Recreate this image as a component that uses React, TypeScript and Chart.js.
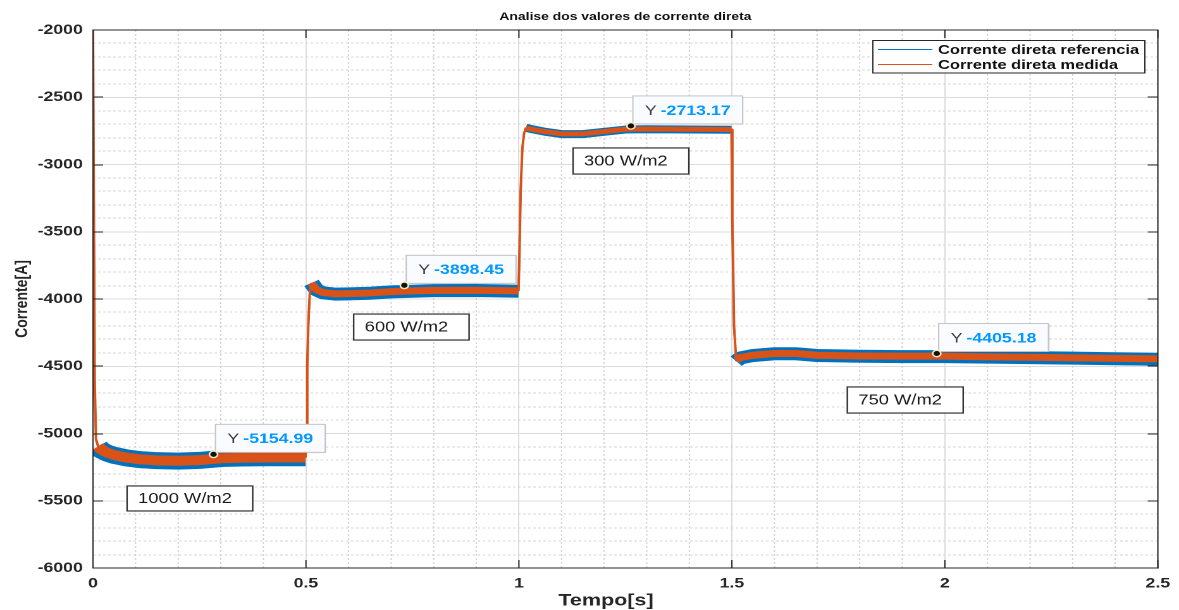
import React, { useEffect, useRef } from 'react';
import { Chart, registerables } from 'chart.js';

Chart.register(...registerables);

// ---------------- data ----------------
const timeS = [
  0, 0.004, 0.007, 0.012, 0.02, 0.035, 0.05, 0.08, 0.11, 0.15, 0.2, 0.25, 0.28, 0.3, 0.35, 0.4, 0.45, 0.499,
  0.501, 0.503, 0.506, 0.509, 0.513, 0.518, 0.525, 0.54, 0.57, 0.6, 0.65, 0.7, 0.75, 0.8, 0.9, 0.999,
  1.001, 1.004, 1.008, 1.012, 1.016, 1.03, 1.06, 1.1, 1.15, 1.2, 1.25, 1.3, 1.4, 1.499,
  1.501, 1.505, 1.51, 1.52, 1.55, 1.6, 1.65, 1.7, 1.8, 1.9, 2.0, 2.1, 2.2, 2.3, 2.4, 2.5,
];

const refCurrent = [
  -2000, -4620, -5050, -5100, -5125, -5148, -5163, -5182, -5194, -5202, -5205, -5200, -5192, -5186, -5182, -5180, -5180, -5180,
  -5010, -4520, -4160, -3965, -3880, -3903, -3933, -3954, -3964, -3962, -3957, -3947, -3942, -3938, -3937, -3942,
  -3710, -3210, -2885, -2772, -2726, -2737, -2756, -2774, -2774, -2757, -2740, -2738, -2740, -2742,
  -3410, -4210, -4462, -4438, -4420, -4407, -4407, -4420, -4426, -4428, -4428, -4432, -4436, -4440, -4444, -4448,
];

const measCurrent = [
  -2000, -4600, -5040, -5095, -5120, -5145, -5160, -5180, -5192, -5200, -5203, -5198, -5190, -5184, -5180, -5178, -5178, -5178,
  -5000, -4500, -4150, -3960, -3882, -3905, -3932, -3952, -3962, -3960, -3955, -3945, -3940, -3936, -3935, -3940,
  -3700, -3200, -2880, -2770, -2728, -2738, -2755, -2772, -2772, -2755, -2738, -2736, -2738, -2740,
  -3400, -4200, -4455, -4435, -4418, -4405, -4405, -4418, -4424, -4425, -4425, -4430, -4433, -4438, -4441, -4445,
];

const seriesNames = ['Corrente direta referencia', 'Corrente direta medida'];

const tipTimes = [0.283, 0.731, 1.263, 1.981];
const tipValues = [-5154.99, -3898.45, -2713.17, -4405.18];

const irradianceLabels = ['1000 W/m2', '600 W/m2', '300 W/m2', '750 W/m2'];

const chartTitle = 'Analise dos valores de corrente direta';
const xTitle = 'Tempo[s]';
const yTitle = 'Corrente[A]';

// ---------------- layout / style ----------------
const VIEW_W = 1179;
const VIEW_H = 610;
const LOGICAL_W = 932; // canvas drawn narrower, then stretched horizontally like the reference
const SX = VIEW_W / LOGICAL_W;

const FONT = '"Liberation Sans", Arial, Helvetica, sans-serif';
const AXIS_COLOR = '#262626';
const BLUE = '#0072BD';
const ORANGE = '#D95319';

// annotation boxes, in data units: [t0, t1, yTop, yBottom]
const labelBoxes = [
  [0.080, 0.375, -5390, -5576],
  [0.612, 0.883, -4112, -4305],
  [1.127, 1.399, -2877, -3071],
  [1.771, 2.043, -4654, -4848],
];

const BAND_W = {
  blue: [17, 13, 8, 13],
  orange: [10, 7, 5, 7],
};
const THIN_W = { blue: 1.5, orange: 2 };

function regionIndex(t: number) {
  if (t < 0.5) return 0;
  if (t < 1.0) return 1;
  if (t < 1.5) return 2;
  return 3;
}

function segWidth(kind: 'blue' | 'orange') {
  return (ctx: any) => {
    const dxPx = Math.abs(ctx.p1.x - ctx.p0.x);
    const dyPx = Math.abs(ctx.p1.y - ctx.p0.y);
    if (dyPx > dxPx * 2.5) return THIN_W[kind];
    return BAND_W[kind][regionIndex(ctx.p0.parsed.x)];
  };
}

const decorPlugin = {
  id: 'decor',
  beforeDatasetsDraw(chart: any) {
    const { ctx, chartArea: a, scales } = chart;
    const x = scales.x;
    const y = scales.y;
    ctx.save();
    ctx.strokeStyle = '#d4d4d4';
    ctx.lineWidth = 1;
    ctx.setLineDash([2, 2]);
    for (let i = 1; i < 25; i++) {
      if (i % 5 === 0) continue;
      const px = x.getPixelForValue(i / 10);
      ctx.beginPath();
      ctx.moveTo(px, a.top);
      ctx.lineTo(px, a.bottom);
      ctx.stroke();
    }
    for (let v = -5900; v < -2000; v += 100) {
      if (v % 500 === 0) continue;
      const py = Math.round(y.getPixelForValue(v));
      ctx.beginPath();
      ctx.moveTo(a.left, py);
      ctx.lineTo(a.right, py);
      ctx.stroke();
    }
    ctx.restore();
  },
  afterDatasetsDraw(chart: any) {
    const { ctx, chartArea: a, scales } = chart;
    const x = scales.x;
    const y = scales.y;
    ctx.save();

    // axes box + inward ticks
    ctx.strokeStyle = AXIS_COLOR;
    ctx.lineWidth = 1;
    ctx.setLineDash([]);
    ctx.strokeRect(a.left, a.top, a.right - a.left, a.bottom - a.top);
    const TL = 8;
    for (let v = -6000; v <= -2000; v += 500) {
      const py = Math.round(y.getPixelForValue(v));
      ctx.beginPath();
      ctx.moveTo(a.left, py); ctx.lineTo(a.left + TL, py);
      ctx.moveTo(a.right, py); ctx.lineTo(a.right - TL, py);
      ctx.stroke();
    }
    for (let i = 0; i <= 5; i++) {
      const px = x.getPixelForValue(i * 0.5);
      ctx.beginPath();
      ctx.moveTo(px, a.bottom); ctx.lineTo(px, a.bottom - TL);
      ctx.moveTo(px, a.top); ctx.lineTo(px, a.top + TL);
      ctx.stroke();
    }

    // irradiance label boxes
    ctx.font = `14.5px ${FONT}`;
    ctx.textBaseline = 'middle';
    ctx.textAlign = 'left';
    labelBoxes.forEach((b, i) => {
      const x0 = x.getPixelForValue(b[0]);
      const x1 = x.getPixelForValue(b[1]);
      const y0 = y.getPixelForValue(b[2]);
      const y1 = y.getPixelForValue(b[3]);
      ctx.fillStyle = '#ffffff';
      ctx.fillRect(x0, y0, x1 - x0, y1 - y0);
      ctx.strokeStyle = '#333333';
      ctx.lineWidth = 1.2;
      ctx.strokeRect(x0, y0, x1 - x0, y1 - y0);
      ctx.fillStyle = '#1a1a1a';
      ctx.fillText(irradianceLabels[i], x0 + 8.7, (y0 + y1) / 2 + 0.5);
    });

    // data tips
    tipTimes.forEach((t, i) => {
      const mx = x.getPixelForValue(t);
      const my = y.getPixelForValue(tipValues[i]);
      const valText = tipValues[i].toFixed(2);
      ctx.font = `bold 14px ${FONT}`;
      const vw = ctx.measureText(valText).width;
      const bx = mx + 1.5;
      const by = my - 30;
      const bh = 28;
      const bw = 22 + vw + 9.5;
      ctx.save();
      ctx.shadowColor = 'rgba(0,0,0,0.18)';
      ctx.shadowBlur = 3;
      ctx.shadowOffsetX = 1;
      ctx.shadowOffsetY = 1;
      ctx.fillStyle = '#fafbff';
      ctx.fillRect(bx, by, bw, bh);
      ctx.restore();
      ctx.strokeStyle = '#c4c4c4';
      ctx.lineWidth = 1;
      ctx.strokeRect(bx, by, bw, bh);
      ctx.textBaseline = 'middle';
      ctx.font = `14px ${FONT}`;
      ctx.fillStyle = '#404040';
      ctx.fillText('Y', bx + 9.5, by + bh / 2 + 1);
      ctx.font = `bold 14px ${FONT}`;
      ctx.fillStyle = '#0099FF';
      ctx.fillText(valText, bx + 22, by + bh / 2 + 1);
      // marker
      ctx.beginPath();
      ctx.arc(mx, my, 3.2, 0, Math.PI * 2);
      ctx.fillStyle = '#111111';
      ctx.fill();
      ctx.strokeStyle = '#f3ecc4';
      ctx.lineWidth = 1.3;
      ctx.stroke();
    });

    // legend
    const lx = 690, ly = 40.5, lw = 215, lh = 32.5;
    ctx.fillStyle = '#ffffff';
    ctx.fillRect(lx, ly, lw, lh);
    ctx.strokeStyle = AXIS_COLOR;
    ctx.lineWidth = 1;
    ctx.strokeRect(lx, ly, lw, lh);
    const rows = [49.5, 64.5];
    const cols = [BLUE, ORANGE];
    ctx.font = `bold 13px ${FONT}`;
    ctx.textBaseline = 'middle';
    rows.forEach((ry, i) => {
      ctx.strokeStyle = cols[i];
      ctx.lineWidth = 1;
      ctx.beginPath();
      ctx.moveTo(694, ry);
      ctx.lineTo(737, ry);
      ctx.stroke();
      ctx.fillStyle = '#111111';
      ctx.fillText(seriesNames[i], 741.5, ry + 1);
    });

    ctx.restore();
  },
  afterDraw(chart: any) {
    const { ctx, chartArea: a } = chart;
    ctx.save();
    ctx.fillStyle = '#111111';
    ctx.textAlign = 'center';
    ctx.textBaseline = 'middle';
    ctx.font = `bold 11px ${FONT}`;
    ctx.fillText(chartTitle, (a.left + a.right) / 2, 17);
    ctx.font = `bold 17px ${FONT}`;
    ctx.fillStyle = AXIS_COLOR;
    ctx.fillText(xTitle, 606 / SX, 601);
    ctx.translate(22 / SX, (a.top + a.bottom) / 2);
    ctx.rotate(-Math.PI / 2);
    ctx.font = `bold 14px ${FONT}`;
    ctx.fillText(yTitle, 0, 0);
    ctx.restore();
  },
};

export default function App() {
  const canvasRef = useRef<HTMLCanvasElement | null>(null);

  useEffect(() => {
    document.body.style.margin = '0';
    const canvas = canvasRef.current;
    if (!canvas) return;
    const refData = timeS.map((t, i) => ({ x: t, y: refCurrent[i] }));
    const measData = timeS.map((t, i) => ({ x: t, y: measCurrent[i] }));
    const chart = new Chart(canvas, {
      type: 'line',
      data: {
        datasets: [
          {
            label: seriesNames[0],
            data: refData,
            borderColor: BLUE,
            backgroundColor: BLUE,
            borderWidth: 13,
            borderJoinStyle: 'round',
            pointRadius: 0,
            tension: 0,
            order: 2,
            segment: { borderWidth: segWidth('blue') },
          },
          {
            label: seriesNames[1],
            data: measData,
            borderColor: ORANGE,
            backgroundColor: ORANGE,
            borderWidth: 7,
            borderJoinStyle: 'round',
            pointRadius: 0,
            tension: 0,
            order: 1,
            segment: { borderWidth: segWidth('orange') },
          },
        ],
      },
      options: {
        animation: false,
        responsive: false,
        devicePixelRatio: 2,
        layout: { padding: { top: 30, right: 15, bottom: 0, left: 0 } },
        plugins: {
          legend: { display: false },
          title: { display: false },
          tooltip: { enabled: false },
        },
        scales: {
          x: {
            type: 'linear',
            min: 0,
            max: 2.5,
            ticks: {
              stepSize: 0.5,
              padding: 7,
              color: AXIS_COLOR,
              font: { family: FONT, size: 14, weight: 'bold' },
              callback: (v: any) => String(v),
              maxRotation: 0,
            },
            grid: { color: '#dcdcdc', lineWidth: 1, drawTicks: false },
            border: { display: true, color: AXIS_COLOR, width: 1 },
            afterFit: (scale: any) => { scale.height = 42; },
          },
          y: {
            type: 'linear',
            min: -6000,
            max: -2000,
            ticks: {
              stepSize: 500,
              padding: 8,
              color: AXIS_COLOR,
              font: { family: FONT, size: 14, weight: 'bold' },
              callback: (v: any) => String(v),
            },
            grid: { color: '#dcdcdc', lineWidth: 1, drawTicks: false },
            border: { display: true, color: AXIS_COLOR, width: 1 },
            afterFit: (scale: any) => { scale.width = 73.5; },
          },
        },
      },
      plugins: [decorPlugin],
    });
    return () => chart.destroy();
  }, []);

  return (
    <div style={{ width: VIEW_W, height: VIEW_H, background: '#ffffff', overflow: 'hidden' }}>
      <canvas
        ref={canvasRef}
        width={LOGICAL_W}
        height={VIEW_H}
        style={{ width: VIEW_W + 'px', height: VIEW_H + 'px', display: 'block' }}
      />
    </div>
  );
}
